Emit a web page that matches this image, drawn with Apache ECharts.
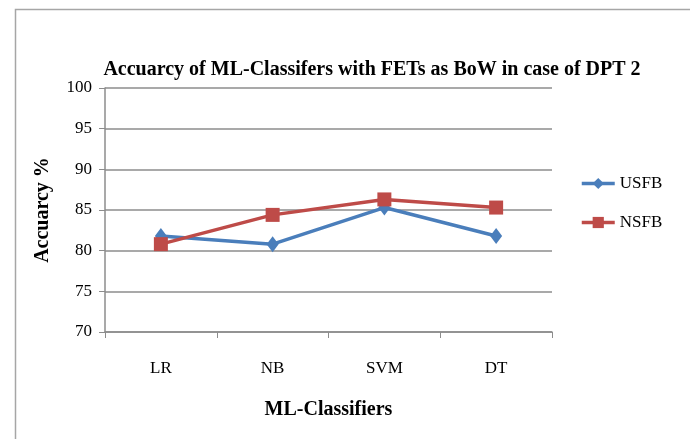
<!DOCTYPE html>
<html>
<head>
<meta charset="utf-8">
<script src="https://cdn.jsdelivr.net/npm/echarts@6/dist/echarts.min.js"></script>
<style>
  html, body { margin: 0; padding: 0; background: #fff; }
  #chart { width: 690px; height: 439px; }
</style>
</head>
<body>
<div id="chart"></div>
<script>
const classifiers = ['LR', 'NB', 'SVM', 'DT'];
const usfb = [81.8, 80.8, 85.3, 81.8];
const nsfb = [80.8, 84.4, 86.3, 85.3];
const yTicks = [70, 75, 80, 85, 90, 95, 100];

const serif = 'Liberation Serif';
const gray = '#8c8c8c';

const chart = echarts.init(document.getElementById('chart'));

chart.setOption({
    animation: false,
    backgroundColor: '#fff',
    graphic: [{
        type: 'rect',
        shape: { x: 15.5, y: 9.5, width: 700, height: 450 },
        style: { fill: 'none', stroke: '#a6a6a6', lineWidth: 1.5 },
        silent: true
    }],
    title: {
        text: 'Accuarcy of ML-Classifers with FETs as BoW in case of DPT 2',
        left: 367,
        top: 55,
        textAlign: 'center',
        textStyle: { fontFamily: serif, fontWeight: 'bold', fontSize: 20, color: '#000' }
    },
    legend: {
        orient: 'vertical',
        left: 580,
        top: 175,
        padding: 0,
        itemGap: 22,
        itemWidth: 33,
        itemHeight: 14,
        lineStyle: { width: 3.5 },
        textStyle: { fontFamily: serif, fontSize: 17, color: '#000' },
        data: ['USFB', 'NSFB']
    },
    grid: { left: 105, top: 88, right: 138, bottom: 107 },
    xAxis: {
        type: 'category',
        data: classifiers,
        boundaryGap: true,
        name: 'ML-Classifiers',
        nameLocation: 'middle',
        nameGap: 68,
        nameTextStyle: { fontFamily: serif, fontWeight: 'bold', fontSize: 20, color: '#000' },
        axisLine: { lineStyle: { color: gray, width: 1.5 } },
        axisTick: { show: true, length: 6, alignWithLabel: false, lineStyle: { color: gray } },
        axisLabel: { fontFamily: serif, fontSize: 17, color: '#000', margin: 28 }
    },
    yAxis: {
        type: 'value',
        min: yTicks[0],
        max: yTicks[yTicks.length - 1],
        interval: 5,
        name: 'Accuarcy %',
        nameLocation: 'middle',
        nameGap: 52,
        nameTextStyle: { fontFamily: serif, fontWeight: 'bold', fontSize: 20, color: '#000' },
        axisLine: { show: true, lineStyle: { color: gray, width: 1.5 } },
        axisTick: { show: true, length: 6, lineStyle: { color: gray } },
        axisLabel: { fontFamily: serif, fontSize: 17, color: '#000', margin: 13 },
        splitLine: { show: true, lineStyle: { color: gray, width: 1.5 } }
    },
    series: [
        {
            name: 'USFB',
            type: 'line',
            data: usfb,
            symbol: 'diamond',
            symbolSize: [12, 16],
            lineStyle: { color: '#4a7ebb', width: 3.5 },
            itemStyle: { color: '#4a7ebb' }
        },
        {
            name: 'NSFB',
            type: 'line',
            data: nsfb,
            symbol: 'rect',
            symbolSize: 14,
            lineStyle: { color: '#be4b48', width: 3.5 },
            itemStyle: { color: '#be4b48' }
        }
    ]
});
</script>
</body>
</html>
